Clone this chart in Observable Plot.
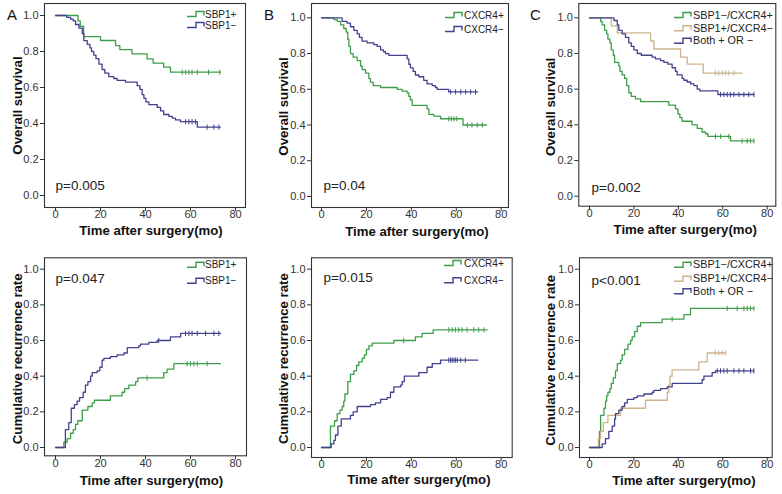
<!DOCTYPE html>
<html><head><meta charset="utf-8">
<script src="https://cdn.jsdelivr.net/npm/d3@7"></script>
<script src="https://cdn.jsdelivr.net/npm/@observablehq/plot@0.6"></script>
<style>
html,body{margin:0;padding:0;background:#fff;}
#wrap{position:relative;width:782px;height:494px;overflow:hidden;background:#fff;font-family:"Liberation Sans",Arial,Helvetica,sans-serif;}
#wrap svg{position:absolute;overflow:visible;}
</style></head><body><div id="wrap"></div>
<script>
// ---------- tick labels & titles ----------
const xTicks = [0, 20, 40, 60, 80];
const yTicks = [0, 0.2, 0.4, 0.6, 0.8, 1.0];
const xTitle = "Time after surgery(mo)";
const osTitle = "Overall survival";
const recTitle = "Cumulative recurrence rate";
const pValues = ["p=0.005", "p=0.04", "p=0.002", "p=0.047", "p=0.015", "p<0.001"];
const labelsA = ["SBP1+", "SBP1\u2212"];
const labelsB = ["CXCR4+", "CXCR4\u2212"];
const labelsC = ["SBP1\u2212/CXCR4+", "SBP1+/CXCR4\u2212", "Both + OR \u2212"];
const panelLetters = ["A", "B", "C"];

// ---------- series: [time (months), value] at each step ----------
const aOsPos = [[0,1],[10,0.97],[11,0.94],[12.5,0.883],[20,0.861],[26.7,0.833],[28.6,0.81],[34,0.787],[40.7,0.759],[43.4,0.735],[48.1,0.713],[51.1,0.685],[73.3,0.685]];
const aOsPosCens = [56.3,57.8,59.3,60.7,63,68,73];
const aOsNeg = [[0,1],[5,0.99],[6.7,0.98],[7.9,0.97],[8.9,0.95],[10.4,0.93],[11.9,0.9],[12.6,0.86],[14.1,0.84],[15.3,0.82],[16,0.8],[17,0.78],[18,0.76],[19.3,0.73],[20.7,0.7],[21.9,0.68],[23.7,0.66],[25.9,0.65],[27.4,0.64],[31.1,0.63],[36.3,0.61],[37.5,0.59],[38.5,0.56],[39.3,0.54],[40.2,0.52],[41.5,0.505],[45.2,0.49],[46.7,0.47],[48.1,0.45],[50.4,0.44],[51.9,0.43],[53.3,0.42],[55.5,0.41],[63,0.38],[73.3,0.38]];
const aOsNegCens = [57.8,59.3,60.7,62.2,67.4,70.4,72.6];

const aRecPos = [[0,0],[3.7,0.03],[5.2,0.05],[6.7,0.08],[7.9,0.1],[8.9,0.13],[9.9,0.15],[11.9,0.21],[14.4,0.23],[16.3,0.25],[17.3,0.265],[24.4,0.29],[29.6,0.31],[30.7,0.33],[32.6,0.35],[35.6,0.37],[36.6,0.39],[48.1,0.42],[49.6,0.44],[52.6,0.47],[73.3,0.47]];
const aRecPosCens = [40.7,58.5,60,61.5,63,67.4];
const aRecNeg = [[0,0],[4.4,0.1],[5.9,0.14],[7,0.22],[8.4,0.24],[9.6,0.26],[10.7,0.28],[12.3,0.31],[13.3,0.35],[14.4,0.37],[15.6,0.4],[16.3,0.42],[18.5,0.43],[19.7,0.45],[20.7,0.49],[21.5,0.5],[24.4,0.51],[27.4,0.52],[30.4,0.53],[31.9,0.56],[37,0.57],[37.8,0.58],[41.5,0.59],[45.2,0.6],[51.1,0.62],[55.6,0.64],[73.3,0.64]];
const aRecNegCens = [45.9,57.8,59.3,60.7,63,66.7,70.4,72.6];

const bOsPos = [[0,1],[5.5,0.99],[7,0.98],[8.5,0.96],[9.9,0.94],[11,0.92],[11.7,0.88],[12.2,0.84],[12.9,0.8],[14.1,0.78],[15.9,0.76],[17.4,0.73],[18.1,0.71],[19.6,0.69],[21.1,0.66],[21.8,0.64],[23,0.62],[26.3,0.61],[33.7,0.6],[35.9,0.59],[38.1,0.58],[38.9,0.56],[39.6,0.54],[40.4,0.51],[47,0.49],[47.8,0.46],[50,0.45],[53,0.435],[63,0.4],[73.5,0.4]];
const bOsPosCens = [56.7,57.8,59,60.2,65,67,69.3,71.6];
const bOsNeg = [[0,1],[9.2,0.98],[11.4,0.97],[12.9,0.95],[14.4,0.93],[15.9,0.91],[16.9,0.89],[18.1,0.87],[20.3,0.86],[23.3,0.85],[24.8,0.84],[26.3,0.82],[27.6,0.81],[28.5,0.8],[30,0.79],[38.1,0.77],[38.9,0.74],[39.6,0.72],[40.8,0.7],[41.8,0.68],[43.3,0.67],[45.5,0.65],[47,0.63],[49.3,0.62],[50.7,0.61],[51.5,0.6],[56.6,0.585],[69.5,0.585]];
const bOsNegCens = [57.5,59.7,62,64.2,66.4,68.6];

const bRecPos = [[0,0],[4,0.12],[5.8,0.15],[7,0.19],[8.2,0.21],[9.2,0.23],[9.9,0.26],[10.4,0.3],[11.7,0.37],[12.9,0.41],[14.4,0.43],[15.6,0.46],[16.6,0.48],[18.1,0.5],[19.1,0.52],[20,0.55],[21.1,0.57],[22.6,0.585],[32.2,0.6],[41.8,0.62],[44.8,0.64],[49.7,0.66],[73.7,0.66]];
const bRecPosCens = [36.6,56.7,58.2,59.6,61.1,62.6,64.8,67.8,70,72.3];
const bRecNeg = [[0,0],[4.3,0.02],[5.5,0.04],[6.2,0.07],[7.3,0.12],[8.8,0.16],[12.9,0.18],[14.1,0.2],[15.9,0.23],[21.8,0.24],[24,0.25],[26.3,0.27],[29.2,0.28],[30.7,0.31],[32.2,0.34],[35.2,0.35],[35.9,0.37],[36.9,0.4],[43.3,0.42],[47,0.45],[49.3,0.47],[53,0.49],[69.6,0.49]];
const bRecNegCens = [56.7,57.5,58.2,59,59.7,60.5,62,64];

const cOsG = [[0,1],[5,0.98],[5.7,0.96],[6.8,0.93],[7.7,0.91],[8.3,0.88],[9.2,0.86],[9.8,0.82],[10.7,0.79],[11.3,0.75],[13.2,0.73],[13.7,0.7],[14.7,0.68],[15.8,0.66],[16.7,0.62],[17.7,0.58],[18.8,0.56],[20.7,0.545],[23,0.53],[35.7,0.51],[38.7,0.49],[39.8,0.46],[40.7,0.44],[41.7,0.42],[46.2,0.4],[48.5,0.38],[50.7,0.36],[52.2,0.35],[53.3,0.335],[63.5,0.31],[74,0.31]];
const cOsGCens = [56.7,59,62.7,68.7,71,72.5,74];
const cOsT = [[0,1],[9.8,0.955],[12.5,0.915],[27.5,0.87],[29,0.825],[41,0.78],[44,0.74],[51.2,0.69],[68.7,0.69]];
const cOsTCens = [56.7,58.2,59.7,61.2,62.7,65];
const cOsB = [[0,1],[11,0.985],[12.5,0.96],[13.2,0.93],[14.7,0.91],[16.2,0.89],[17.7,0.86],[18.8,0.84],[20,0.82],[21.5,0.8],[23.3,0.79],[28.2,0.78],[29.7,0.77],[32,0.76],[33.5,0.75],[35.3,0.74],[37.2,0.72],[38.7,0.7],[39.5,0.68],[41.7,0.66],[42.5,0.65],[44,0.64],[45.5,0.63],[47,0.62],[48.5,0.6],[49.7,0.59],[57.8,0.57],[74,0.57]];
const cOsBCens = [59,60.5,62,63.5,65,67.3,69.5,71.7,74];

const cRecG = [[0,0],[4.5,0.09],[5,0.18],[6.5,0.22],[7.2,0.26],[7.7,0.29],[8.3,0.31],[9.2,0.33],[9.8,0.36],[10.7,0.39],[11.7,0.43],[12.5,0.47],[14,0.49],[14.7,0.52],[15.8,0.55],[17.3,0.58],[18.5,0.6],[19.2,0.62],[20.3,0.65],[21.5,0.68],[23,0.7],[32.7,0.72],[42.5,0.745],[45.5,0.78],[74,0.78]];
const cRecGCens = [37.2,62,66.5,69.5,71,72.5,74];
const cRecT = [[0,0],[4,0.05],[5,0.09],[6.2,0.14],[8.3,0.18],[14,0.22],[25.2,0.265],[35,0.31],[35.7,0.35],[36.2,0.4],[37.2,0.435],[49.2,0.48],[53,0.53],[61.3,0.53]];
const cRecTCens = [56.7,58.2,59.7,61.3];
const cRecB = [[0,0],[5.7,0.02],[7.2,0.05],[8.7,0.09],[10.2,0.12],[11.3,0.16],[11.7,0.19],[13.2,0.21],[14.7,0.23],[15.8,0.25],[17,0.27],[20,0.28],[21.5,0.29],[24.5,0.3],[28.2,0.31],[29,0.32],[32,0.33],[35,0.34],[37.2,0.36],[50.7,0.38],[51.5,0.4],[55.2,0.42],[56.7,0.43],[74,0.43]];
const cRecBCens = [57.5,59,60.5,62,65,67.3,69.5,72.5,74];

// ---------- styling / layout ----------
const GREEN = "#3e9d4a", BLUE = "#41418f", TAN = "#cbb48a";
const FONT = '"Liberation Sans", Arial, Helvetica, sans-serif';

// box: svg [left, top, width, height]; frame: [L, T, R, B]; px: pixel of x=0, x=80, y=1, y=0
const panels = [
  {box:[0,0,255,245], frame:[44,3,245,207], px:[55,235,15,195], yTitle:osTitle, p:pValues[0], pTop:false, pdx:11, pdy:-22, xt:[6,23], yt:[-27,0],
   series:[[aOsPos,aOsPosCens,GREEN],[aOsNeg,aOsNegCens,BLUE]], legend:{labels:labelsA, colors:[GREEN,BLUE], gx:187, tx:205, ys:[14,25], fs:10}, letter:[panelLetters[0],7]},
  {box:[260,0,255,245], frame:[311,3,508,207], px:[321,500.7,17.3,196], yTitle:osTitle, p:pValues[1], pTop:false, pdx:12, pdy:-22, xt:[7,24], yt:[-27.7,1],
   series:[[bOsPos,bOsPosCens,GREEN],[bOsNeg,bOsNegCens,BLUE]], legend:{labels:labelsB, colors:[GREEN,BLUE], gx:445, tx:464, ys:[15,29], fs:10}, letter:[panelLetters[1],264]},
  {box:[520,0,262,245], frame:[578.3,3,775.3,205.7], px:[589,766.7,17.3,195.7], yTitle:osTitle, p:pValues[2], pTop:false, pdx:12.7, pdy:-19, xt:[8,23.6], yt:[-28.3,2],
   series:[[cOsG,cOsGCens,GREEN],[cOsT,cOsTCens,TAN],[cOsB,cOsBCens,BLUE]], legend:{labels:labelsC, colors:[GREEN,TAN,BLUE], gx:674, tx:693, ys:[15,28.3,40.7], fs:10.8}, letter:[panelLetters[2],530]},
  {box:[0,248,255,246], frame:[44,257.3,246,455.3], px:[55,235,268.7,447], yTitle:recTitle, p:pValues[3], pTop:true, pdx:11, pdy:21, xt:[6,25], yt:[-27,2],
   series:[[aRecPos,aRecPosCens,GREEN],[aRecNeg,aRecNegCens,BLUE]], legend:{labels:labelsA, colors:[GREEN,BLUE], gx:187, tx:205, ys:[264.7,280.7], fs:10}},
  {box:[260,248,255,246], frame:[311,257.3,511.7,457], px:[321,500.7,268.7,447], yTitle:recTitle, p:pValues[4], pTop:true, pdx:12, pdy:20, xt:[7,22.7], yt:[-27.7,1],
   series:[[bRecPos,bRecPosCens,GREEN],[bRecNeg,bRecNegCens,BLUE]], legend:{labels:labelsB, colors:[GREEN,BLUE], gx:444, tx:464, ys:[263,280.3], fs:10}},
  {box:[520,248,262,246], frame:[579,257.3,771.7,457], px:[589,766.7,268.7,447], yTitle:recTitle, p:pValues[5], pTop:true, pdx:12, pdy:23, xt:[8,23.3], yt:[-29,2.7],
   series:[[cRecG,cRecGCens,GREEN],[cRecT,cRecTCens,TAN],[cRecB,cRecBCens,BLUE]], legend:{labels:labelsC, colors:[GREEN,TAN,BLUE], gx:674, tx:693, ys:[264.7,278.7,291.3], fs:10.8}}
];

// vertical censor tick symbol
const censorSymbol = {draw(ctx, size){ const h = Math.sqrt(size/Math.PI); ctx.moveTo(0,-h); ctx.lineTo(0,h); }};

function stepValue(steps, t){ let v = steps[0][1]; for (const [s, val] of steps) { if (s <= t) v = val; else break; } return v; }

const wrap = document.getElementById("wrap");

for (const P of panels) {
  const [bl, bt, bw, bh] = P.box;
  const [L, T, R, B] = P.frame;
  const [x0, x80, y1, y0] = P.px;
  const kx = (x80 - x0) / 80, ky = (y0 - y1);
  const xDomain = [(L - x0) / kx, 80 + (R - x80) / kx];
  const yDomain = [-(B - y0) / ky, 1 + (y1 - T) / ky];
  const marks = [
    Plot.axisX({ticks: xTicks, tickSize: 4, tickPadding: -1, tickFormat: d => String(d), label: null, fontSize: 11}),
    Plot.axisY({ticks: yTicks, tickSize: 4, tickPadding: 2, tickFormat: d3.format(".1f"), label: null, fontSize: 11}),
    Plot.text([xTitle], {text: d => d, frameAnchor: "bottom", dx: P.xt[0], dy: P.xt[1], textAnchor: "middle", lineAnchor: "middle", fontWeight: "bold", fontSize: 13.2, fill: "#111"}),
    Plot.text([P.yTitle], {text: d => d, frameAnchor: "left", dx: P.yt[0], dy: P.yt[1], rotate: -90, textAnchor: "middle", lineAnchor: "middle", fontWeight: "bold", fontSize: 13.2, fill: "#111"}),
    Plot.text([P.p], {text: d => d, frameAnchor: P.pTop ? "top-left" : "bottom-left", dx: P.pdx, dy: P.pdy, textAnchor: "start", lineAnchor: "middle", fontSize: 13.5, fill: "#222"})
  ];
  for (const [steps, cens, color] of P.series) {
    const pts = steps.map(([t, v]) => ({t, v}));
    marks.push(Plot.line(pts, {x: "t", y: "v", curve: "step-after", stroke: color, strokeWidth: 1.3}));
    const cpts = cens.map(t => ({t, v: stepValue(steps, t)}));
    marks.push(Plot.dot(cpts, {x: "t", y: "v", symbol: censorSymbol, r: 2.6, stroke: color, fill: "none", strokeWidth: 1}));
  }
  marks.push(Plot.frame({stroke: "#333", strokeWidth: 1.1}));
  const svg = Plot.plot({
    width: bw, height: bh,
    marginLeft: L - bl, marginRight: bl + bw - R, marginTop: T - bt, marginBottom: bt + bh - B,
    x: {domain: xDomain}, y: {domain: yDomain},
    style: {fontFamily: FONT, fontSize: "11px", color: "#333", background: "transparent", overflow: "visible"},
    marks
  });
  svg.style.left = bl + "px";
  svg.style.top = bt + "px";
  wrap.appendChild(svg);
}

// overlay for panel letters and legends
const ov = d3.select(wrap).append("svg")
  .attr("width", 782).attr("height", 494)
  .style("left", "0px").style("top", "0px")
  .style("font-family", FONT).style("pointer-events", "none");

for (const P of panels) {
  if (P.letter) {
    ov.append("text").attr("x", P.letter[1]).attr("y", 20).attr("font-size", 15).attr("fill", "#111").text(P.letter[0]);
  }
  const lg = P.legend;
  lg.labels.forEach((lab, i) => {
    const y = lg.ys[i];
    ov.append("path")
      .attr("d", `M${lg.gx},${y + 2.5}h9v-5h8v4`)
      .attr("fill", "none").attr("stroke", lg.colors[i]).attr("stroke-width", 1.4);
    ov.append("text").attr("x", lg.tx).attr("y", y).attr("dy", "0.35em")
      .attr("font-size", lg.fs).attr("fill", "#222").text(lab);
  });
}
</script></body></html>
